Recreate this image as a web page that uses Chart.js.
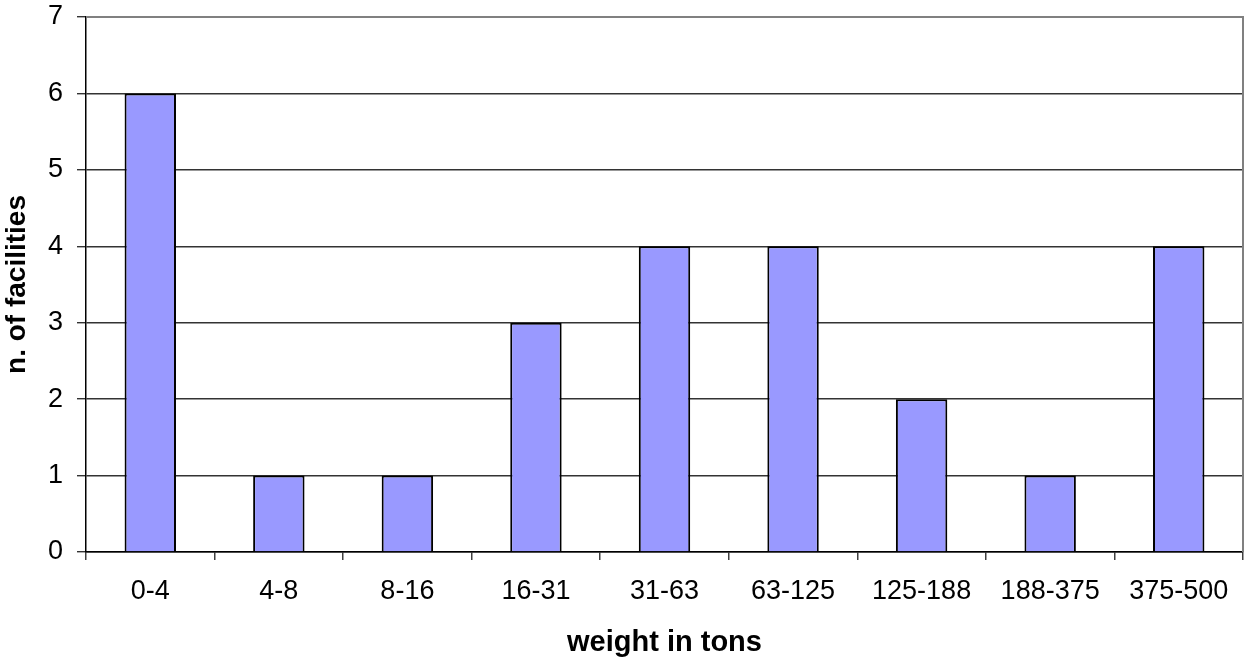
<!DOCTYPE html>
<html>
<head>
<meta charset="utf-8">
<script src="https://cdn.jsdelivr.net/npm/chart.js@4"></script>
<style>
  html, body { margin: 0; padding: 0; background: #fff; }
  #wrap { width: 1245px; height: 661px; position: relative; }
</style>
</head>
<body>
<div id="wrap"><canvas id="c"></canvas></div>
<script>
// Weight classes (tons) and number of facilities in each
const categories = ['0-4', '4-8', '8-16', '16-31', '31-63', '63-125', '125-188', '188-375', '375-500'];
const facilities = [6, 1, 1, 3, 4, 4, 2, 1, 4];
const yTicks = [0, 1, 2, 3, 4, 5, 6, 7];

const FONT = '"Liberation Sans", Arial, sans-serif';

// Thin grey frame around the plotting area
const frame = {
  id: 'frame',
  afterDatasetsDraw(chart) {
    const a = chart.chartArea, ctx = chart.ctx;
    ctx.save();
    ctx.strokeStyle = '#808080';
    ctx.lineWidth = 2;
    ctx.beginPath();
    ctx.moveTo(a.left, a.top);
    ctx.lineTo(a.right, a.top);
    ctx.lineTo(a.right, a.bottom);
    ctx.stroke();
    ctx.restore();
  }
};

new Chart(document.getElementById('c'), {
  type: 'bar',
  data: {
    labels: categories,
    datasets: [{
      data: facilities,
      backgroundColor: '#9999FF',
      borderColor: '#000000',
      borderWidth: 2,
      barPercentage: 0.4,
      categoryPercentage: 1.0
    }]
  },
  options: {
    responsive: true,
    maintainAspectRatio: false,
    animation: false,
    layout: { padding: { top: 17, right: 2, left: 0, bottom: 0 } },
    plugins: { legend: { display: false }, tooltip: { enabled: false } },
    scales: {
      x: {
        offset: true,
        grid: {
          offset: true,
          drawOnChartArea: false,
          color: '#404040',
          tickLength: 8,
          lineWidth: 1.5
        },
        border: { color: '#000', width: 1.5 },
        ticks: {
          color: '#000',
          font: { family: FONT, size: 27 },
          padding: 15,
          maxRotation: 0,
          autoSkip: false
        },
        title: {
          display: true,
          text: 'weight in tons',
          color: '#000',
          font: { family: FONT, size: 29, weight: 'bold' },
          padding: { top: 0, bottom: 1 }
        },
        afterFit(scale) { scale.height = 109; scale.paddingLeft = 0; scale.paddingRight = 0; }
      },
      y: {
        min: 0,
        max: 7,
        afterBuildTicks(scale) { scale.ticks = yTicks.map(v => ({ value: v })); },
        grid: {
          color: '#333',
          lineWidth: 1.4,
          tickLength: 9
        },
        border: { color: '#000', width: 1.5 },
        ticks: {
          color: '#000',
          font: { family: FONT, size: 27 },
          padding: 14
        },
        title: {
          display: true,
          text: 'n. of facilities',
          color: '#000',
          font: { family: FONT, size: 28, weight: 'bold' },
          padding: { top: 0, bottom: 0 }
        },
        afterFit(scale) { scale.width = 86; scale.paddingTop = 0; scale.paddingBottom = 0; }
      }
    }
  },
  plugins: [frame]
});
</script>
</body>
</html>
